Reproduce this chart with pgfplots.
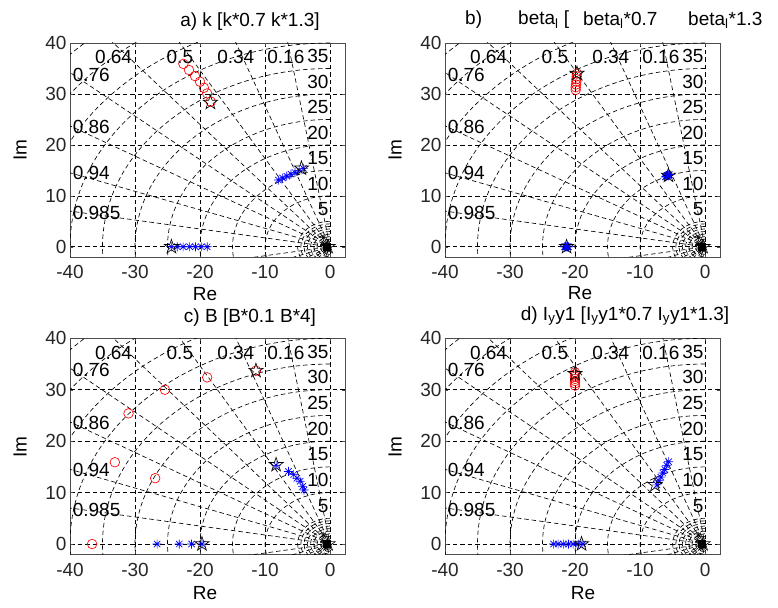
\documentclass[border=0pt]{standalone}
\usepackage{pgfplots}
\pgfplotsset{compat=1.18}
\usepackage{fontspec}
\setmainfont{Liberation Sans}
\newcommand\fs{\fontsize{19}{21}\selectfont}

% eight-armed asterisk
\pgfdeclareplotmark{mast}{%
  \pgfpathmoveto{\pgfqpoint{-\pgfplotmarksize}{0pt}}\pgfpathlineto{\pgfqpoint{\pgfplotmarksize}{0pt}}%
  \pgfpathmoveto{\pgfqpoint{0pt}{-\pgfplotmarksize}}\pgfpathlineto{\pgfqpoint{0pt}{\pgfplotmarksize}}%
  \pgfpathmoveto{\pgfqpoint{-.707\pgfplotmarksize}{-.707\pgfplotmarksize}}\pgfpathlineto{\pgfqpoint{.707\pgfplotmarksize}{.707\pgfplotmarksize}}%
  \pgfpathmoveto{\pgfqpoint{-.707\pgfplotmarksize}{.707\pgfplotmarksize}}\pgfpathlineto{\pgfqpoint{.707\pgfplotmarksize}{-.707\pgfplotmarksize}}%
  \pgfusepathqstroke}
% five-pointed star outline
\pgfdeclareplotmark{pent}{%
  \pgfpathmoveto{\pgfqpointpolar{90}{\pgfplotmarksize}}%
  \pgfpathlineto{\pgfqpointpolar{126}{.382\pgfplotmarksize}}%
  \pgfpathlineto{\pgfqpointpolar{162}{\pgfplotmarksize}}%
  \pgfpathlineto{\pgfqpointpolar{198}{.382\pgfplotmarksize}}%
  \pgfpathlineto{\pgfqpointpolar{234}{\pgfplotmarksize}}%
  \pgfpathlineto{\pgfqpointpolar{270}{.382\pgfplotmarksize}}%
  \pgfpathlineto{\pgfqpointpolar{306}{\pgfplotmarksize}}%
  \pgfpathlineto{\pgfqpointpolar{342}{.382\pgfplotmarksize}}%
  \pgfpathlineto{\pgfqpointpolar{18}{\pgfplotmarksize}}%
  \pgfpathlineto{\pgfqpointpolar{54}{.382\pgfplotmarksize}}%
  \pgfpathclose\pgfusepathqstroke}

\tikzset{sg/.style={black, line width=0.65pt, dash pattern=on 4.5pt off 3pt}}

\pgfplotsset{rl/.style={
  scale only axis, width=275pt, anchor=south west,
  xmin=-40, xmax=2.3, ymin=-2, ymax=40,
  xtick={-40,-30,-20,-10,0}, ytick={0,10,20,30,40},
  grid=major, major grid style={sg},
  tick align=inside, major tick length=3pt, tick style={black!70},
  axis line style={black!70, line width=0.8pt},
  tick label style={font=\fs, text=black!85},
  /pgf/number format/assume math mode=true,
  xticklabel style={yshift=-5pt},
}}

% s-plane grid: constant natural frequency arcs, constant damping rays, labels
\newcommand\sgrid{%
  \pgfplotsinvokeforeach{0.5,1,1.5,2,2.5,3,3.5,4,4.5,5,10,15,20,25,30,35,40,45,50,55}{%
    \draw[sg] (axis cs:0,##1) arc[start angle=90, end angle=270, x radius=##1, y radius=##1];}%
  \pgfplotsinvokeforeach{0.16,0.34,0.5,0.64,0.76,0.86,0.94,0.985}{%
    \draw[sg] (axis cs:{-70*##1},{70*sqrt(1-##1*##1)}) -- (axis cs:0,0) -- (axis cs:{-70*##1},{-70*sqrt(1-##1*##1)});}%
  \node[font=\fs] at (axis cs:-6.8,37.2) {0.16};
  \node[font=\fs] at (axis cs:-14.5,37.2) {0.34};
  \node[font=\fs] at (axis cs:-23.1,37.2) {0.5};
  \node[font=\fs] at (axis cs:-33.3,37.2) {0.64};
  \node[font=\fs, anchor=west, inner sep=0pt] at (axis cs:-39.6,33.8) {0.76};
  \node[font=\fs, anchor=west, inner sep=0pt] at (axis cs:-39.6,23.5) {0.86};
  \node[font=\fs, anchor=west, inner sep=0pt] at (axis cs:-39.6,14.4) {0.94};
  \node[font=\fs, anchor=west, inner sep=0pt] at (axis cs:-39.6,6.7) {0.985};
  \pgfplotsinvokeforeach{5,10,15,20,25,30,35}{%
    \node[font=\fs, anchor=east, inner sep=0pt] at (axis cs:-0.2,##1+2.4) {##1};}%
}

% poles of the nominal model near the origin
\newcommand\origin{%
  \addplot[only marks, mark=square*, mark size=3.5pt, black] coordinates {(-0.45,0)};
  \addplot[only marks, mark=mast, mark size=3pt, black, line width=0.5pt] coordinates {(-1.0,1.8)};
  \addplot[only marks, mark=pent, mark size=7.5pt, black, line width=0.6pt] coordinates {(-0.3,0)};
}

\begin{document}
\begin{tikzpicture}[x=1pt,y=1pt]
\path[use as bounding box] (0,0) rectangle (778,607);

% ---------------- a) ----------------
\begin{axis}[rl, height=214pt, at={(70pt,350pt)}]
\sgrid
\addplot[only marks, mark=o, mark size=4.8pt, red, line width=0.65pt] coordinates {
 (-22.56,35.9) (-21.7,34.7) (-20.77,33.5) (-20.0,32.4) (-19.4,31.2) (-18.9,30.1) (-18.35,28.5)};
\addplot[only marks, mark=mast, mark size=4.5pt, blue, line width=0.65pt] coordinates {
 (-24.4,0) (-23.5,0) (-22.6,0) (-21.6,0) (-20.7,0) (-19.8,0) (-18.9,0)};
\addplot[only marks, mark=mast, mark size=4.5pt, blue, line width=0.65pt] coordinates {
 (-7.95,13.1) (-7.3,13.5) (-6.65,13.85) (-6.0,14.25) (-5.4,14.6) (-4.75,15.0) (-4.1,15.4)};
\addplot[only marks, mark=pent, mark size=7.5pt, black, line width=0.65pt] coordinates {
 (-18.4,28.3) (-4.4,15.4) (-24.4,0)};
\origin
\end{axis}

% ---------------- b) ----------------
\begin{axis}[rl, height=214pt, at={(445pt,350pt)}]
\sgrid
\addplot[only marks, mark=o, mark size=4.8pt, red, line width=0.65pt] coordinates {
 (-19.9,30.8) (-19.9,31.3) (-19.85,31.85) (-19.8,32.4) (-19.8,32.9) (-19.75,33.45) (-19.7,34.0)};
\addplot[only marks, mark=mast, mark size=4.5pt, blue, line width=0.65pt] coordinates {
 (-21.6,0) (-21.5,0) (-21.4,0) (-21.3,0) (-21.2,0) (-21.1,0) (-21.0,0)};
\addplot[only marks, mark=mast, mark size=4.5pt, blue, line width=0.65pt] coordinates {
 (-6.1,13.7) (-6.0,13.8) (-5.9,13.9) (-5.8,14.0) (-5.7,14.05) (-5.6,14.1) (-5.5,14.2)};
\addplot[only marks, mark=pent, mark size=7.5pt, black, line width=0.65pt] coordinates {
 (-19.7,34.0) (-5.63,14.0) (-21.3,0)};
\origin
\end{axis}

% ---------------- c) ----------------
\begin{axis}[rl, height=216pt, at={(70pt,52.7pt)}]
\sgrid
\addplot[only marks, mark=o, mark size=4.8pt, red, line width=0.65pt] coordinates {
 (-36.6,0) (-33.1,15.9) (-31.0,25.4) (-26.9,12.8) (-25.4,30.0) (-18.9,32.4) (-11.4,33.7)};
\addplot[only marks, mark=mast, mark size=4.5pt, blue, line width=0.65pt] coordinates {
 (-26.6,0) (-23.2,0) (-21.3,0) (-19.7,0)};
\addplot[only marks, mark=mast, mark size=4.5pt, blue, line width=0.65pt] coordinates {
 (-8.3,15.3) (-6.4,14.1) (-5.6,13.5) (-5.1,12.8) (-4.6,12.2) (-4.2,11.2) (-4.0,10.5)};
\addplot[only marks, mark=pent, mark size=7.5pt, black, line width=0.65pt] coordinates {
 (-11.4,33.7) (-8.3,15.4) (-19.7,0)};
\origin
\end{axis}

% ---------------- d) ----------------
\begin{axis}[rl, height=216pt, at={(445pt,52.7pt)}]
\sgrid
\addplot[only marks, mark=o, mark size=4.8pt, red, line width=0.65pt] coordinates {
 (-20,30.8) (-20,31.25) (-20,31.7) (-20,32.1) (-20,32.55) (-20,33.0) (-20,33.4)};
\addplot[only marks, mark=mast, mark size=4.5pt, blue, line width=0.65pt] coordinates {
 (-23.3,0) (-22.6,0) (-21.8,0) (-21.0,0) (-20.3,0) (-19.5,0) (-18.8,0)};
\addplot[only marks, mark=mast, mark size=4.5pt, blue, line width=0.65pt] coordinates {
 (-7.4,11.5) (-7.1,12.3) (-6.8,13.0) (-6.5,13.8) (-6.2,14.5) (-5.9,15.3) (-5.6,16.0)};
\addplot[only marks, mark=pent, mark size=7.5pt, black, line width=0.65pt] coordinates {
 (-20,33.1) (-7.7,11.5) (-19.0,0)};
\origin
\end{axis}

% axis labels
\node[font=\fs, rotate=90] at (20,457) {Im};
\node[font=\fs, rotate=90] at (395,457) {Im};
\node[font=\fs, rotate=90] at (20,160) {Im};
\node[font=\fs, rotate=90] at (395,160) {Im};
\node[font=\fs] at (205,313) {Re};
\node[font=\fs] at (580,314) {Re};
\node[font=\fs] at (205,14) {Re};
\node[font=\fs] at (583,14) {Re};

% titles
\node[font=\fs] at (250,289) {c) B [B*0.1 B*4]};
\node[font=\fs] at (250,585) {a) k [k*0.7 k*1.3]};
\node[font=\fs, anchor=west, inner sep=0pt] at (465,587) {b)};
\node[font=\fs, anchor=west, inner sep=0pt] at (518,587) {beta\textsubscript{l} [};
\node[font=\fs, anchor=west, inner sep=0pt] at (583,587) {beta\textsubscript{l}*0.7};
\node[font=\fs, anchor=west, inner sep=0pt] at (688,587) {beta\textsubscript{l}*1.3};
\node[font=\fs] at (625,291) {d) I\textsubscript{y}y1 [I\textsubscript{y}y1*0.7 I\textsubscript{y}y1*1.3]};
\end{tikzpicture}
\end{document}
